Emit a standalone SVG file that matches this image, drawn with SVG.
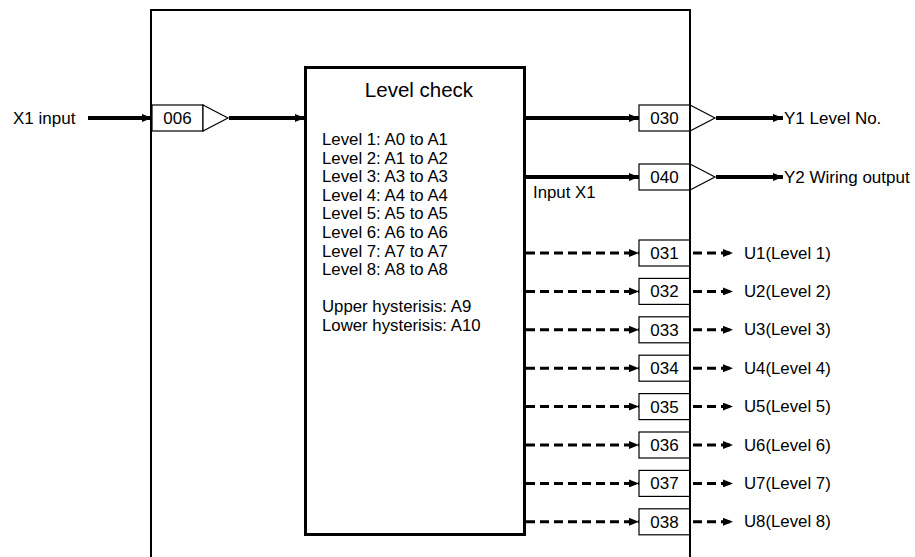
<svg xmlns="http://www.w3.org/2000/svg" width="915" height="557" viewBox="0 0 915 557">
<defs>
<marker id="ah" viewBox="0 0 10 8" refX="10" refY="4" markerWidth="10" markerHeight="8" markerUnits="userSpaceOnUse" orient="auto"><path d="M0,0 L10,4 L0,8 Z" fill="#000"/></marker>
</defs>
<style>
text{font-family:"Liberation Sans",Arial,sans-serif;fill:#000}
.t{font-size:17px}
.s{font-size:16.8px}
.c{text-anchor:middle}
.box{fill:#fff;stroke:#000;stroke-width:1.2}
.tri{fill:#fff;stroke:#000;stroke-width:1.2}
.thick{fill:none;stroke:#000;stroke-width:4;marker-end:url(#ah)}
.dash{fill:none;stroke:#000;stroke-width:3;stroke-dasharray:9 5;marker-end:url(#ah)}
</style>
<rect width="915" height="557" fill="#fff"/>
<g id="frame">
<path d="M151,557 V10 H690 V557" fill="none" stroke="#000" stroke-width="2"/>
</g>
<g id="connectors">
<path class="thick" d="M88,118 H152"/>
<path class="thick" d="M229,118 H305"/>
<path class="thick" d="M526,118 H639"/>
<path class="thick" d="M526,177 H639"/>
<path class="thick" d="M716,118 H783"/>
<path class="thick" d="M716,177 H783"/>
<path class="dash" d="M526,253 H639"/>
<path class="dash" d="M526,291.4 H639"/>
<path class="dash" d="M526,329.8 H639"/>
<path class="dash" d="M526,368.2 H639"/>
<path class="dash" d="M526,406.6 H639"/>
<path class="dash" d="M526,445 H639"/>
<path class="dash" d="M526,483.4 H639"/>
<path class="dash" d="M526,521.8 H639"/>
<path class="dash" d="M693,253 H733"/>
<path class="dash" d="M693,291.4 H733"/>
<path class="dash" d="M693,329.8 H733"/>
<path class="dash" d="M693,368.2 H733"/>
<path class="dash" d="M693,406.6 H733"/>
<path class="dash" d="M693,445 H733"/>
<path class="dash" d="M693,483.4 H733"/>
<path class="dash" d="M693,521.8 H733"/>
</g>
<g id="x1-input"><text class="t" x="13" y="124">X1 input</text></g>
<g id="n006">
<rect class="box" x="152" y="105" width="51" height="26"/>
<text class="t c" x="177.5" y="124">006</text>
<path class="tri" d="M203,105 L228,118 L203,131 Z"/>
</g>
<g id="level-check">
<rect x="305.5" y="67.5" width="219" height="467" fill="#fff" stroke="#000" stroke-width="3"/>
<text x="419" y="97" class="c" font-size="20.5">Level check</text>
<text class="s" x="322" y="145">Level 1: A0 to A1</text>
<text class="s" x="322" y="163.6">Level 2: A1 to A2</text>
<text class="s" x="322" y="182.2">Level 3: A3 to A3</text>
<text class="s" x="322" y="200.8">Level 4: A4 to A4</text>
<text class="s" x="322" y="219.4">Level 5: A5 to A5</text>
<text class="s" x="322" y="238">Level 6: A6 to A6</text>
<text class="s" x="322" y="256.6">Level 7: A7 to A7</text>
<text class="s" x="322" y="275.2">Level 8: A8 to A8</text>
<text class="s" x="322" y="312">Upper hysterisis: A9</text>
<text class="s" x="322" y="330.6">Lower hysterisis: A10</text>
</g>
<g id="input-x1-label"><text class="s" x="533" y="198">Input X1</text></g>
<g id="n030">
<rect class="box" x="639" y="105" width="51" height="26"/>
<text class="t c" x="664.5" y="124">030</text>
<path class="tri" d="M690,105 L715,118 L690,131 Z"/>
<text class="t" x="784" y="124">Y1 Level No.</text>
</g>
<g id="n040">
<rect class="box" x="639" y="164" width="51" height="26"/>
<text class="t c" x="664.5" y="183">040</text>
<path class="tri" d="M690,164 L715,177 L690,190 Z"/>
<text class="t" x="784" y="183">Y2 Wiring output</text>
</g>
<g id="n031"><rect class="box" x="639" y="240" width="51" height="26"/><text class="t c" x="664.5" y="259">031</text><text class="s" x="744" y="258.5">U1(Level 1)</text></g>
<g id="n032"><rect class="box" x="639" y="278.4" width="51" height="26"/><text class="t c" x="664.5" y="297.4">032</text><text class="s" x="744" y="296.9">U2(Level 2)</text></g>
<g id="n033"><rect class="box" x="639" y="316.8" width="51" height="26"/><text class="t c" x="664.5" y="335.8">033</text><text class="s" x="744" y="335.3">U3(Level 3)</text></g>
<g id="n034"><rect class="box" x="639" y="355.2" width="51" height="26"/><text class="t c" x="664.5" y="374.2">034</text><text class="s" x="744" y="373.7">U4(Level 4)</text></g>
<g id="n035"><rect class="box" x="639" y="393.6" width="51" height="26"/><text class="t c" x="664.5" y="412.6">035</text><text class="s" x="744" y="412.1">U5(Level 5)</text></g>
<g id="n036"><rect class="box" x="639" y="432" width="51" height="26"/><text class="t c" x="664.5" y="451">036</text><text class="s" x="744" y="450.5">U6(Level 6)</text></g>
<g id="n037"><rect class="box" x="639" y="470.4" width="51" height="26"/><text class="t c" x="664.5" y="489.4">037</text><text class="s" x="744" y="488.9">U7(Level 7)</text></g>
<g id="n038"><rect class="box" x="639" y="508.8" width="51" height="26"/><text class="t c" x="664.5" y="527.8">038</text><text class="s" x="744" y="527.3">U8(Level 8)</text></g>
<path d="M690,10 V557" stroke="#000" stroke-width="2" fill="none"/>
</svg>
